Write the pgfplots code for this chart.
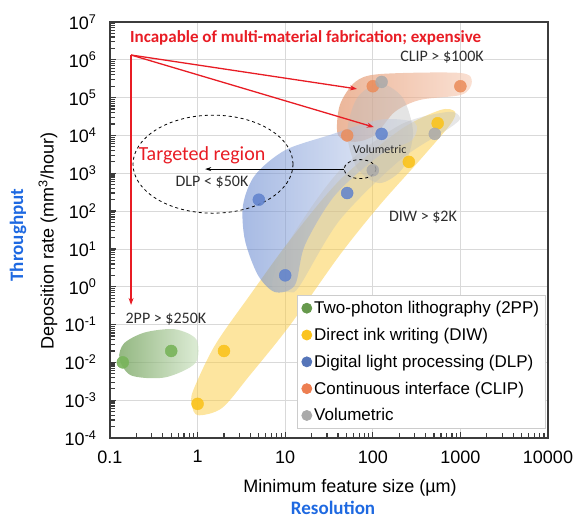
\documentclass[border=0pt]{standalone}
\usepackage{pgfplots}
\pgfplotsset{compat=1.18}
\usepackage{fontspec}
\setmainfont{Liberation Sans}
\newfontfamily\carl{Carlito}
\usetikzlibrary{arrows.meta}
\definecolor{mgreen}{RGB}{120,180,90}
\definecolor{myellow}{RGB}{250,195,30}
\definecolor{mblue}{RGB}{95,130,205}
\definecolor{morange}{RGB}{235,140,90}
\definecolor{mgrey}{RGB}{170,170,170}
\definecolor{annred}{RGB}{232,28,36}
\definecolor{titleblue}{RGB}{30,105,225}
\definecolor{txtgrey}{RGB}{45,45,45}
\definecolor{axgrey}{RGB}{60,60,60}
\begin{document}
\begin{tikzpicture}
\begin{axis}[
  scale only axis, width=438pt, height=416pt,
  xmode=log, ymode=log,
  xmin=0.1, xmax=10000, ymin=1e-4, ymax=1e7,
  xtick={0.1,1,10,100,1000,10000},
  xticklabels={0.1,1,10,100,1000,10000},
  ytick={1e-4,1e-3,1e-2,1e-1,1,10,100,1000,1e4,1e5,1e6,1e7},
  yticklabels={10\textsuperscript{-4},10\textsuperscript{-3},10\textsuperscript{-2},10\textsuperscript{-1},10\textsuperscript{0},10\textsuperscript{1},10\textsuperscript{2},10\textsuperscript{3},10\textsuperscript{4},10\textsuperscript{5},10\textsuperscript{6},10\textsuperscript{7}},
  tick label style={font=\fontsize{18}{20}\selectfont, text=black},
  xticklabel style={yshift=-9pt},
  yticklabel style={xshift=-10pt},
  xmajorgrids=true, ymajorgrids=true,
  major grid style={draw=black!15, line width=0.8pt},
  axis line style={draw=axgrey, line width=1.3pt},
  every tick/.style={axgrey, line width=1.2pt},
  major tick length=6pt, minor tick length=5pt,
  xtick align=inside, ytick align=inside,
  xtick pos=bottom, ytick pos=left,
  clip=false,
  legend style={at={(0.427,0.344)}, anchor=north west, draw=black!20, line width=0.8pt, fill=white,
     font=\fontsize{17}{20}\selectfont, row sep=9pt, inner xsep=4pt, inner ysep=4pt,
     nodes={inner sep=2pt}},
  legend cell align=left,
]
% regions
\addplot[forget plot, smooth cycle, draw=none, fill=myellow!85!white, fill opacity=0.5] coordinates {
 (1.01,4.0e-4) (1.90,6.2e-4) (3.96,4.6e-3) (11.3,0.095) (42,6.9) (120,144) (345,2240) (760,1.9e4) (870,4.2e4) (590,4.7e4) (205,1.4e4) (42,660) (11.3,17) (3.96,0.6) (1.58,0.0285) (0.89,1.8e-3) (0.86,7.4e-4)};
\addplot[forget plot, smooth cycle, draw=none, left color=morange!95!black, right color=morange!45!white, fill opacity=0.6] coordinates {
 (40,1.03e4) (42,6.3e4) (63,2.6e5) (120,4.2e5) (990,4.5e5) (1350,2.6e5) (1040,1.2e5) (345,8.7e4) (178,4.2e4) (106,1.03e4) (63,6800)};
\addplot[forget plot, smooth cycle, draw=none, left color=mblue, right color=mblue!20!white, fill opacity=0.55] coordinates {
 (3.47,17) (3.30,144) (4.52,890) (9.96,4070) (32.4,1.03e4) (120,2.6e4) (300,2.2e4) (280,7600) (120,3000) (37,262) (16.8,12.6) (12.9,1.1) (7.66,0.72) (4.9,2.0)};
\addplot[forget plot, smooth cycle, draw=none, fill=mgrey!80!white, fill opacity=0.35] coordinates {
 (7.07,1.1) (11.3,0.72) (14.8,1.1) (42,58) (205,2240) (760,1.6e4) (990,2.9e4) (725,4.2e4) (205,1.9e4) (42,1200) (11.3,17)};
\addplot[forget plot, smooth cycle, draw=none, fill=mgrey!80!white, fill opacity=0.4] coordinates {
 (288,1.15e4) (221,9.7e4) (120,2.4e5) (66,9.7e4) (51,1.15e4) (66,1380) (120,550) (221,1380)};
\addplot[forget plot, smooth cycle, draw=none, left color=mgreen!85!black, right color=mgreen!35!white, fill opacity=0.7] coordinates {
 (0.128,0.0125) (0.175,0.0045) (0.425,0.0040) (0.94,0.0095) (0.97,0.040) (0.552,0.075) (0.251,0.062) (0.145,0.032)};
% tick marks (minor and major), drawn on top of the grid
\pgfplotsforeachungrouped \v in {0.2,0.3,0.4,0.5,0.6,0.7,0.8,0.9,2,3,4,5,6,7,8,9,20,30,40,50,60,70,80,90,200,300,400,500,600,700,800,900,2000,3000,4000,5000,6000,7000,8000,9000}{%
  \edef\tmpx{\noexpand\draw[axgrey, line width=1.1pt] (axis cs:\v,1e-4) -- ++(0pt,5pt);}\tmpx}
\pgfplotsforeachungrouped \v in {1,10,100,1000}{%
  \edef\tmpx{\noexpand\draw[axgrey, line width=1.1pt] (axis cs:\v,1e-4) -- ++(0pt,6pt);}\tmpx}
\pgfplotsforeachungrouped \v in {2e-4,3e-4,4e-4,5e-4,6e-4,7e-4,8e-4,9e-4,2e-3,3e-3,4e-3,5e-3,6e-3,7e-3,8e-3,9e-3,2e-2,3e-2,4e-2,5e-2,6e-2,7e-2,8e-2,9e-2,2e-1,3e-1,4e-1,5e-1,6e-1,7e-1,8e-1,9e-1,2,3,4,5,6,7,8,9,20,30,40,50,60,70,80,90,200,300,400,500,600,700,800,900,2e3,3e3,4e3,5e3,6e3,7e3,8e3,9e3,2e4,3e4,4e4,5e4,6e4,7e4,8e4,9e4,2e5,3e5,4e5,5e5,6e5,7e5,8e5,9e5,2e6,3e6,4e6,5e6,6e6,7e6,8e6,9e6}{%
  \edef\tmpy{\noexpand\draw[axgrey, line width=1.1pt] (axis cs:0.1,\v) -- ++(5pt,0pt);}\tmpy}
\pgfplotsforeachungrouped \v in {1e-3,1e-2,1e-1,1,10,100,1000,1e4,1e5,1e6}{%
  \edef\tmpy{\noexpand\draw[axgrey, line width=1.1pt] (axis cs:0.1,\v) -- ++(6pt,0pt);}\tmpy}
% points
\addplot[only marks, color=mgreen, mark=*, mark size=6pt, mark options={draw=mgreen, fill=mgreen, opacity=0.9},
  legend image code/.code={\fill[mgreen!85!black] (0pt,0pt) circle (5pt);}] coordinates {(0.14,0.01) (0.5,0.02)};
\addlegendentry{Two-photon lithography (2PP)}
\addplot[only marks, color=myellow, mark=*, mark size=6pt, mark options={draw=myellow, fill=myellow, opacity=0.9},
  legend image code/.code={\fill[myellow] (0pt,0pt) circle (5pt);}] coordinates {(1,8e-4) (2,0.02) (258,2000) (550,2.1e4)};
\addlegendentry{Direct ink writing (DIW)}
\addplot[only marks, color=mblue, mark=*, mark size=6pt, mark options={draw=mblue, fill=mblue, opacity=0.85},
  legend image code/.code={\fill[mblue!90!black] (0pt,0pt) circle (5pt);}] coordinates {(5,200) (10,2) (51,300) (126,1.1e4)};
\addlegendentry{Digital light processing (DLP)}
\addplot[only marks, color=morange, mark=*, mark size=6pt, mark options={draw=morange, fill=morange, opacity=0.85},
  legend image code/.code={\fill[morange!90!red] (0pt,0pt) circle (5pt);}] coordinates {(100,2e5) (1000,2e5) (51,1e4)};
\addlegendentry{Continuous interface (CLIP)}
\addplot[only marks, color=mgrey, mark=*, mark size=6pt, mark options={draw=mgrey, fill=mgrey, opacity=0.85},
  legend image code/.code={\fill[mgrey] (0pt,0pt) circle (5pt);}] coordinates {(510,1.1e4) (100,1200) (126,2.6e5)};
\addlegendentry{Volumetric}
% annotations
\node[anchor=west, inner sep=0pt, font=\carl\bfseries\fontsize{17}{20}\selectfont, text=annred] at (axis cs:0.169,3.8e6) {Incapable of multi-material fabrication; expensive};
\draw[annred, line width=1.3pt, -{Stealth[length=7pt,width=5pt]}] (axis cs:0.174,1.34e6) -- (axis cs:66,1.7e5);
\draw[annred, line width=1.3pt, -{Stealth[length=7pt,width=5pt]}] (axis cs:0.174,1.34e6) -- (axis cs:103,1.66e4);
\draw[annred, line width=1.3pt, -{Stealth[length=7pt,width=5pt]}] (axis cs:0.174,1.34e6) -- (axis cs:0.174,0.33);
\draw[black, dashed, line width=0.8pt] (axis cs:1.50,1740) ellipse [x radius=80pt, y radius=49pt];
\draw[black, dashed, line width=0.8pt] (axis cs:71.5,1290) ellipse [x radius=16pt, y radius=9.5pt];
\draw[black, line width=0.9pt, {Stealth[length=6pt,width=4pt]}-] (axis cs:1.22,1290) -- (axis cs:46.9,1290);
\node[font=\carl\fontsize{20}{22}\selectfont, text=annred] at (axis cs:1.12,3000) {Targeted region};
\node[font=\carl\fontsize{16}{18}\selectfont, text=txtgrey] at (axis cs:1.46,590) {DLP < \$50K};
\node[font=\carl\fontsize{12}{14}\selectfont, text=txtgrey] at (axis cs:120,4400) {Volumetric};
\node[font=\carl\fontsize{16}{18}\selectfont, text=txtgrey] at (axis cs:617,1.2e6) {CLIP > \$100K};
\node[font=\carl\fontsize{16}{18}\selectfont, text=txtgrey] at (axis cs:374,69) {DIW > \$2K};
\node[font=\carl\fontsize{16}{18}\selectfont, text=txtgrey] at (axis cs:0.435,0.139) {2PP > \$250K};
% axis titles
\node[rotate=90, font=\fontsize{18}{20}\selectfont] at (axis cs:0.0196,16.1) {Deposition rate (mm\textsuperscript{3}/hour)};
\node[rotate=90, font=\carl\bfseries\fontsize{19}{22}\selectfont, text=titleblue] at (axis cs:0.0089,23.2) {Throughput};
\node[font=\fontsize{18}{20}\selectfont] at (axis cs:55,4.7e-6) {Minimum feature size (µm)};
\node[font=\carl\bfseries\fontsize{19}{22}\selectfont, text=titleblue] at (axis cs:35.2,1.45e-6) {Resolution};
\coordinate (bbsw) at (rel axis cs:0,0);
\coordinate (bbne) at (rel axis cs:1,1);
\end{axis}
\pgfresetboundingbox
\path[use as bounding box] ([shift={(-110pt,-81pt)}]bbsw) rectangle ([shift={(28pt,22pt)}]bbne);
\end{tikzpicture}
\end{document}
